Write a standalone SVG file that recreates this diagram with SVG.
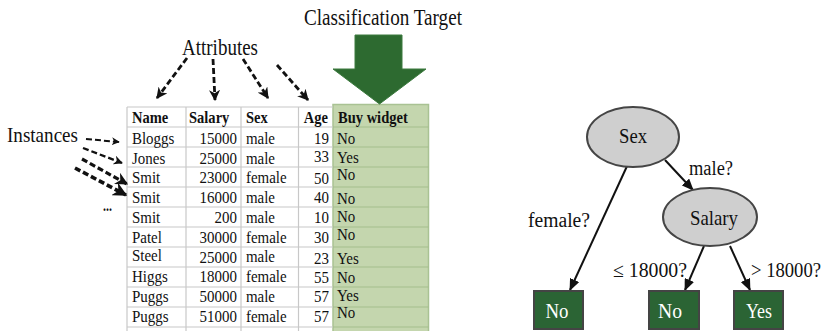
<svg xmlns="http://www.w3.org/2000/svg" width="827" height="331" viewBox="0 0 827 331" font-family="Liberation Serif, serif">
  <defs>
    <marker id="barb" viewBox="0 0 10 10" refX="9" refY="5" markerWidth="4" markerHeight="4" orient="auto" markerUnits="strokeWidth">
      <path d="M0,0 L10,5 L0,10 L3,5 z" fill="#111"/>
    </marker>
    <marker id="tip" viewBox="0 0 12 10" refX="11" refY="5" markerWidth="12" markerHeight="10" orient="auto" markerUnits="userSpaceOnUse">
      <path d="M0,0 L12,5 L0,10 z" fill="#111"/>
    </marker>
  </defs>

  <!-- Titles -->
  <g id="titles" font-family="Liberation Serif, serif" fill="#111">
    <text x="304" y="25" font-size="24" textLength="158" lengthAdjust="spacingAndGlyphs">Classification Target</text>
    <text x="182" y="55" font-size="23" textLength="76" lengthAdjust="spacingAndGlyphs">Attributes</text>
    <text x="7" y="142" font-size="22" textLength="71" lengthAdjust="spacingAndGlyphs">Instances</text>
    <text x="103" y="211" font-size="16" font-weight="bold" textLength="9" lengthAdjust="spacingAndGlyphs">...</text>
  </g>

  <!-- Target column -->
  <g id="target-column">
    <rect x="333" y="104.5" width="95.5" height="228" fill="#c4d6ae" stroke="#a9c293" stroke-width="1.5"/>
    <path stroke="#a3bd8b" stroke-width="1.2" fill="none" d="M333,127H428.5M333,147H428.5M333,167H428.5M333,187H428.5M333,207H428.5M333,227H428.5M333,247H428.5M333,267H428.5M333,287H428.5M333,307H428.5M333,327H428.5"/>
  </g>

  <!-- Big arrow onto the target column -->
  <g id="target-arrow">
    <polygon points="355,35 402,35 402,69 426,69 379.5,104 333,69 355,69" fill="#2d6a30" stroke="#3c7a3e" stroke-width="1"/>
  </g>

  <!-- Attribute table grid -->
  <g id="table-grid" stroke="#c8c8c8" stroke-width="1.2" fill="none">
    <path d="M127,107H333M127,127H333M127,147H333M127,167H333M127,187H333M127,207H333M127,227H333M127,247H333M127,267H333M127,287H333M127,307H333M127,327H333"/>
    <path d="M127,107V331M186,107V331M241,107V331M298.5,107V331"/>
  </g>

  <!-- Table text, set slightly condensed -->
  <g id="table-text" transform="scale(0.88,1)" font-family="Liberation Serif, serif" fill="#111">
    <g font-size="16.5" font-weight="bold">
      <text x="150" y="123">Name</text>
      <text x="214.8" y="123">Salary</text>
      <text x="279.5" y="123">Sex</text>
      <text x="372.7" y="123" text-anchor="end">Age</text>
      <text x="384.1" y="123">Buy widget</text>
    </g>
    <g font-size="17">
      <text x="150" y="144">Bloggs</text>
      <text x="269.3" y="144" text-anchor="end">15000</text>
      <text x="279.5" y="144">male</text>
      <text x="373.9" y="144" text-anchor="end">19</text>
      <text x="383" y="144">No</text>

      <text x="150" y="164">Jones</text>
      <text x="269.3" y="164" text-anchor="end">25000</text>
      <text x="279.5" y="164">male</text>
      <text x="373.9" y="162" text-anchor="end">33</text>
      <text x="383" y="163">Yes</text>

      <text x="150" y="183">Smit</text>
      <text x="269.3" y="183" text-anchor="end">23000</text>
      <text x="279.5" y="183">female</text>
      <text x="373.9" y="184" text-anchor="end">50</text>
      <text x="383" y="180">No</text>

      <text x="150" y="203">Smit</text>
      <text x="269.3" y="203" text-anchor="end">16000</text>
      <text x="279.5" y="203">male</text>
      <text x="373.9" y="203" text-anchor="end">40</text>
      <text x="383" y="204">No</text>

      <text x="150" y="223">Smit</text>
      <text x="269.3" y="223" text-anchor="end">200</text>
      <text x="279.5" y="223">male</text>
      <text x="373.9" y="223" text-anchor="end">10</text>
      <text x="383" y="222">No</text>

      <text x="150" y="243">Patel</text>
      <text x="269.3" y="243" text-anchor="end">30000</text>
      <text x="279.5" y="243">female</text>
      <text x="373.9" y="243" text-anchor="end">30</text>
      <text x="383" y="240">No</text>

      <text x="150" y="261">Steel</text>
      <text x="269.3" y="263" text-anchor="end">25000</text>
      <text x="279.5" y="262">male</text>
      <text x="373.9" y="264" text-anchor="end">23</text>
      <text x="383" y="264">Yes</text>

      <text x="150" y="282">Higgs</text>
      <text x="269.3" y="282" text-anchor="end">18000</text>
      <text x="279.5" y="282">female</text>
      <text x="373.9" y="283" text-anchor="end">55</text>
      <text x="383" y="283">No</text>

      <text x="150" y="302">Puggs</text>
      <text x="269.3" y="302" text-anchor="end">50000</text>
      <text x="279.5" y="302">male</text>
      <text x="373.9" y="302" text-anchor="end">57</text>
      <text x="383" y="301">Yes</text>

      <text x="150" y="322">Puggs</text>
      <text x="269.3" y="322" text-anchor="end">51000</text>
      <text x="279.5" y="322">female</text>
      <text x="373.9" y="322" text-anchor="end">57</text>
      <text x="383" y="318">No</text>
    </g>
  </g>

  <!-- Dashed pointer arrows -->
  <g id="pointers" stroke="#111" fill="none" stroke-dasharray="6 3" marker-end="url(#barb)">
    <line x1="187" y1="58" x2="157" y2="98" stroke-width="2.8"/>
    <line x1="213" y1="59" x2="215" y2="100" stroke-width="2.8"/>
    <line x1="243" y1="59" x2="268" y2="98" stroke-width="2.8"/>
    <line x1="277" y1="65" x2="308" y2="100" stroke-width="2.8"/>

    <line x1="86" y1="139" x2="119" y2="142" stroke-width="2"/>
    <line x1="83" y1="148" x2="122" y2="163" stroke-width="2.3"/>
    <line x1="82" y1="159" x2="127" y2="184" stroke-width="3.2"/>
    <line x1="75" y1="168" x2="126" y2="195" stroke-width="3.6"/>
  </g>

  <!-- Decision tree connectors -->
  <g id="edges">
    <g stroke="#111" stroke-width="2" fill="none" marker-end="url(#tip)">
      <line x1="628" y1="164" x2="570" y2="290"/>
      <line x1="665" y1="160" x2="693" y2="190"/>
      <line x1="704" y1="246" x2="685" y2="290"/>
      <line x1="730" y1="246" x2="750" y2="290"/>
    </g>
    <g font-family="Liberation Serif, serif" font-size="20" fill="#111">
      <text x="528" y="227" textLength="62" lengthAdjust="spacingAndGlyphs">female?</text>
      <text x="689" y="175" textLength="44" lengthAdjust="spacingAndGlyphs">male?</text>
      <text x="613" y="277" textLength="74" lengthAdjust="spacingAndGlyphs">&#8804; 18000?</text>
      <text x="751" y="277" textLength="70" lengthAdjust="spacingAndGlyphs">&gt; 18000?</text>
    </g>
  </g>

  <!-- Decision tree nodes -->
  <g id="node-sex" font-family="Liberation Serif, serif">
    <ellipse cx="633" cy="137" rx="46" ry="30" fill="#cfcfcf" stroke="#454545" stroke-width="2"/>
    <text x="633" y="143" font-size="22" fill="#111" text-anchor="middle" textLength="28" lengthAdjust="spacingAndGlyphs">Sex</text>
  </g>
  <g id="node-salary" font-family="Liberation Serif, serif">
    <ellipse cx="710" cy="217" rx="47" ry="29" fill="#cfcfcf" stroke="#454545" stroke-width="2"/>
    <text x="714" y="225" font-size="22" fill="#111" text-anchor="middle" textLength="48" lengthAdjust="spacingAndGlyphs">Salary</text>
  </g>
  <g id="leaf-female-no" font-family="Liberation Serif, serif">
    <rect x="534" y="291" width="49" height="38" fill="#2b6434" stroke="#444" stroke-width="2"/>
    <text x="557" y="318" font-size="22" fill="#fff" text-anchor="middle" textLength="23" lengthAdjust="spacingAndGlyphs">No</text>
  </g>
  <g id="leaf-low-no" font-family="Liberation Serif, serif">
    <rect x="649" y="291" width="50" height="38" fill="#2b6434" stroke="#444" stroke-width="2"/>
    <text x="670" y="318" font-size="22" fill="#fff" text-anchor="middle" textLength="24" lengthAdjust="spacingAndGlyphs">No</text>
  </g>
  <g id="leaf-high-yes" font-family="Liberation Serif, serif">
    <rect x="734" y="291" width="49" height="38" fill="#2b6434" stroke="#444" stroke-width="2"/>
    <text x="759" y="318" font-size="22" fill="#fff" text-anchor="middle" textLength="26" lengthAdjust="spacingAndGlyphs">Yes</text>
  </g>
</svg>
